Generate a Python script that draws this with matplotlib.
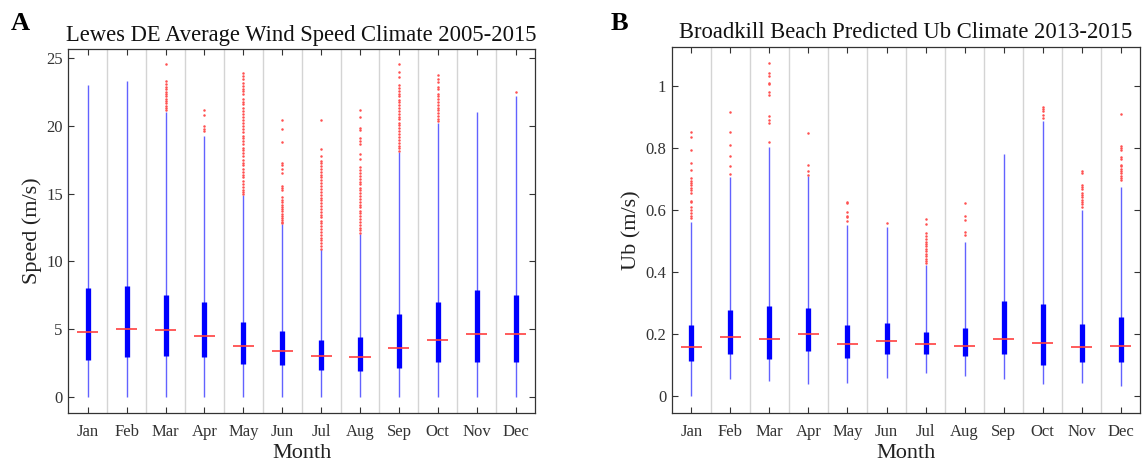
import matplotlib
matplotlib.use("Agg")
import matplotlib.pyplot as plt

plt.rcParams['font.family'] = ['Liberation Serif', 'DejaVu Serif']

months = ['Jan', 'Feb', 'Mar', 'Apr', 'May', 'Jun', 'Jul', 'Aug', 'Sep', 'Oct', 'Nov', 'Dec']

# Panel A: wind speed (m/s)
spd_lo = [0, 0, 0, 0, 0, 0, 0, 0, 0, 0, 0, 0]
spd_hi = [23.0, 23.3, 21.05, 19.3, 14.9, 12.75, 10.9, 12.0, 18.05, 20.2, 21.0, 22.2]
spd_q1 = [2.72, 2.9, 3.03, 2.9, 2.43, 2.33, 2.0, 1.9, 2.12, 2.6, 2.6, 2.6]
spd_q3 = [8.0, 8.2, 7.5, 7.03, 5.5, 4.88, 4.2, 4.4, 6.1, 7.03, 7.9, 7.5]
spd_med = [4.8, 5.0, 4.93, 4.5, 3.72, 3.4, 3.03, 2.9, 3.63, 4.22, 4.64, 4.64]
spd_out = [
    [],
    [],
    [24.6, 23.3, 23.1, 22.9, 22.7, 22.55, 22.4, 22.2, 22.0, 21.85, 21.7, 21.5, 21.3, 21.15],
    [21.15, 20.8, 20.0, 19.8, 19.6],
    [23.9, 23.7, 23.45, 23.2, 22.95, 22.75, 22.6, 22.35, 22.0, 21.8, 21.6, 21.35, 21.1,
     20.9, 20.7, 20.45, 20.2, 20.0, 19.8, 19.55, 19.3, 19.1, 18.9, 18.65, 18.4, 18.2,
     18.0, 17.75, 17.5, 17.3, 17.1, 16.85, 16.6, 16.4, 16.2, 15.95, 15.7, 15.5, 15.3,
     15.1, 14.95],
    [20.45, 19.75, 18.85, 17.3, 17.15, 16.8, 16.5, 15.6, 15.45, 15.3, 14.75, 14.55, 14.4,
     14.2, 14.0, 13.85, 13.7, 13.5, 13.35, 13.2, 13.05, 12.9, 12.8],
    [20.45, 18.3, 17.8, 17.45, 17.25, 17.05, 16.85, 16.6, 16.4, 16.2, 16.0, 15.8, 15.55,
     15.35, 15.15, 14.9, 14.7, 14.5, 14.3, 14.1, 13.85, 13.65, 13.45, 13.25, 13.0, 12.8,
     12.6, 12.4, 12.2, 11.95, 11.75, 11.55, 11.35, 11.15, 10.95],
    [21.2, 20.7, 19.85, 19.7, 19.1, 18.9, 18.7, 17.95, 17.6, 16.95, 16.75, 16.55, 16.3,
     16.1, 15.9, 15.7, 15.45, 15.25, 15.05, 14.85, 14.6, 14.4, 14.2, 14.0, 13.75, 13.55,
     13.35, 13.15, 12.9, 12.7, 12.5, 12.3, 12.1],
    [24.6, 24.0, 23.6, 23.0, 22.8, 22.6, 22.4, 22.2, 21.95, 21.75, 21.55, 21.35, 21.1,
     20.9, 20.7, 20.5, 20.25, 20.05, 19.85, 19.6, 19.4, 19.2, 19.0, 18.75, 18.55, 18.35,
     18.15],
    [23.75, 23.5, 23.25, 22.9, 22.75, 22.35, 22.2, 22.0, 21.75, 21.55, 21.35, 21.15,
     20.95, 20.75, 20.55, 20.35],
    [],
    [22.5],
]

# Panel B: predicted Ub (m/s)
ub_lo = [0.0, 0.054, 0.047, 0.038, 0.041, 0.056, 0.073, 0.062, 0.054, 0.038, 0.041, 0.03]
ub_hi = [0.561, 0.707, 0.804, 0.708, 0.55, 0.545, 0.42, 0.495, 0.78, 0.885, 0.60, 0.674]
ub_q1 = [0.113, 0.134, 0.119, 0.143, 0.122, 0.134, 0.134, 0.127, 0.134, 0.098, 0.11, 0.11]
ub_q3 = [0.227, 0.275, 0.29, 0.283, 0.229, 0.234, 0.205, 0.218, 0.306, 0.297, 0.232, 0.254]
ub_med = [0.156, 0.188, 0.184, 0.2, 0.168, 0.177, 0.167, 0.161, 0.183, 0.171, 0.157, 0.161]
ub_out = [
    [0.852, 0.834, 0.793, 0.752, 0.728, 0.701, 0.694, 0.687, 0.679, 0.671, 0.663, 0.655,
     0.629, 0.624, 0.61, 0.6, 0.588, 0.58, 0.574],
    [0.914, 0.85, 0.81, 0.774, 0.741, 0.715],
    [1.075, 1.04, 1.03, 1.009, 1.005, 0.98, 0.97, 0.903, 0.89, 0.88, 0.819],
    [0.848, 0.744, 0.725, 0.713],
    [0.624, 0.621, 0.592, 0.58, 0.575, 0.562],
    [0.556],
    [0.570, 0.553, 0.524, 0.515, 0.505, 0.497, 0.49, 0.482, 0.474, 0.466, 0.458, 0.45,
     0.442, 0.434, 0.427],
    [0.621, 0.58, 0.567, 0.529, 0.517],
    [],
    [0.933, 0.924, 0.917, 0.907, 0.896],
    [0.726, 0.718, 0.68, 0.673, 0.667, 0.655, 0.648, 0.64, 0.632, 0.624, 0.617, 0.61],
    [0.91, 0.806, 0.799, 0.793, 0.769, 0.763, 0.745, 0.74, 0.733, 0.726, 0.718, 0.71,
     0.703, 0.697],
]

axis_col = '#333333'


def compact_box(ax, lo, hi, q1, q3, med, out):
    x = list(range(1, len(med) + 1))
    # grey separators between groups
    for i in range(1, len(med)):
        ax.axvline(i + 0.5, color='#d4d4d4', lw=1.0, zorder=0)
    ax.vlines(x, lo, hi, color='#6262ff', lw=1.0, zorder=2)
    ax.vlines(x, q1, q3, color='#0000ff', lw=3.8, zorder=3)
    ax.hlines(med, [v - 0.27 for v in x], [v + 0.27 for v in x], color='#ff4040', lw=1.2, zorder=4)
    for xi, vals in zip(x, out):
        if vals:
            ax.plot([xi] * len(vals), vals, 'o', ms=1.8, mec='none', mfc='#ff5050', zorder=4)
    ax.set_xlim(0.5, len(med) + 0.5)
    ax.set_xticks(x)
    ax.set_xticklabels(months)
    ax.tick_params(direction='in', top=True, right=True, length=4, width=0.8,
                   colors=axis_col, labelsize=12)
    ax.tick_params(axis='x', pad=8)
    ax.tick_params(axis='y', pad=4)
    for s in ax.spines.values():
        s.set_color(axis_col)
        s.set_linewidth(0.9)


fig = plt.figure(figsize=(11.42, 4.65), dpi=100)

ax1 = fig.add_axes([0.0598, 0.1125, 0.4087, 0.7815])
compact_box(ax1, spd_lo, spd_hi, spd_q1, spd_q3, spd_med, spd_out)
ax1.set_ylim(-1.18, 25.67)
ax1.set_yticks([0, 5, 10, 15, 20, 25])
ax1.set_ylabel('Speed (m/s)', fontsize=16, color='#222222', labelpad=3)
ax1.set_xlabel('Month', fontsize=16, color='#222222', labelpad=3)
ax1.set_title('Lewes DE Average Wind Speed Climate 2005-2015', fontsize=16.3, color='#111111', pad=6)

ax2 = fig.add_axes([0.5882, 0.1125, 0.4104, 0.787])
compact_box(ax2, ub_lo, ub_hi, ub_q1, ub_q3, ub_med, ub_out)
ax2.set_ylim(-0.055, 1.126)
ax2.set_yticks([0, 0.2, 0.4, 0.6, 0.8, 1.0])
ax2.set_yticklabels(['0', '0.2', '0.4', '0.6', '0.8', '1'])
ax2.set_ylabel('Ub (m/s)', fontsize=16, color='#222222', labelpad=3)
ax2.set_xlabel('Month', fontsize=16, color='#222222', labelpad=3)
ax2.set_title('Broadkill Beach Predicted Ub Climate 2013-2015', fontsize=16.3, color='#111111', pad=6)

fig.text(0.009, 0.935, 'A', fontsize=19, fontweight='bold', color='black')
fig.text(0.535, 0.935, 'B', fontsize=19, fontweight='bold', color='black')

fig.savefig('out.png', dpi=100)
